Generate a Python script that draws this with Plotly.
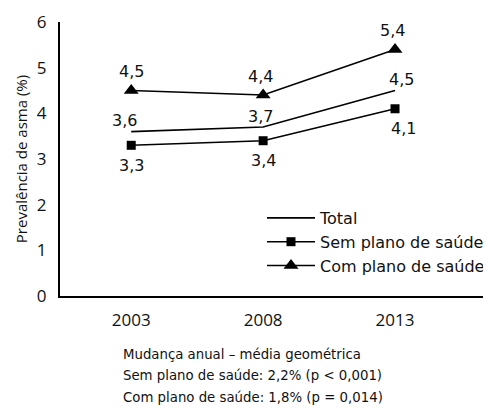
import plotly.graph_objects as go

years = [2003, 2008, 2013]
total = [3.6, 3.7, 4.5]
sem_plano = [3.3, 3.4, 4.1]
com_plano = [4.5, 4.4, 5.4]
y_ticks = [0, 1, 2, 3, 4, 5, 6]
note_lines = [
    "Mudança anual – média geométrica",
    "Sem plano de saúde: 2,2% (p < 0,001)",
    "Com plano de saúde: 1,8% (p = 0,014)",
]

def fmt(v):
    return f"{v:.1f}".replace(".", ",")

# page body has an 8px default margin: layout coords = screen coords - 8
OFF = 8
PLOT_L, PLOT_R, PLOT_T, PLOT_B = 60 - OFF, 490 - OFF, 22 - OFF, 296 - OFF
W, H = 483, 406
PW, PH = PLOT_R - PLOT_L, PLOT_B - PLOT_T

label_font = dict(family="DejaVu Sans", size=16, color="#111")
line = dict(color="black", width=1.6)

fig = go.Figure()
fig.add_trace(go.Scatter(
    x=years, y=total, name="Total", mode="lines", line=line))
fig.add_trace(go.Scatter(
    x=years, y=sem_plano, name="Sem plano de saúde", mode="lines+markers",
    line=line, marker=dict(symbol="square", size=9, color="black")))
fig.add_trace(go.Scatter(
    x=years, y=com_plano, name="Com plano de saúde", mode="lines+markers",
    line=line, marker=dict(symbol="triangle-up", size=13, color="black")))

annotations = []
# value labels, placed at the data points with pixel offsets
label_specs = [
    (total, 11, [-7, -3, 6]),
    (sem_plano, -20, [0, 0, 8]),
    (com_plano, 19, [0, -3, -3]),
]
for vals, ys, xs in label_specs:
    for x, v, dx in zip(years, vals, xs):
        annotations.append(dict(
            x=x, y=v, xref="x", yref="y", text=fmt(v), showarrow=False,
            xanchor="center", yanchor="middle", xshift=dx, yshift=ys,
            font=label_font))

for i, t in enumerate(note_lines):
    annotations.append(dict(
        xref="paper", yref="paper", x=(121 - 60) / PW, y=(296 - 354 - 21.5 * i) / PH,
        xanchor="left", yanchor="middle", align="left", showarrow=False,
        text=t, font=dict(family="DejaVu Sans", size=13.3, color="#111")))

fig.update_layout(
    width=W, height=H,
    margin=dict(l=PLOT_L, r=W - PLOT_R, t=PLOT_T, b=H - PLOT_B),
    paper_bgcolor="white", plot_bgcolor="white",
    showlegend=True,
    legend=dict(x=(262 - 60) / PW, y=(296 - 201) / PH, xanchor="left", yanchor="top",
                font=dict(family="DejaVu Sans", size=16, color="#111"),
                tracegroupgap=0, itemwidth=48, bgcolor="rgba(0,0,0,0)"),
    xaxis=dict(range=[2000.3, 2016.6], tickvals=years,
               ticktext=[str(y) for y in years], automargin=False,
               showline=True, linecolor="black", linewidth=2,
               showgrid=False, zeroline=False, ticks="",
               ticklabelstandoff=8,
               tickfont=dict(family="Open Sans", size=17, color="#111")),
    yaxis=dict(range=[0, 6], tickvals=y_ticks, automargin=False,
               showline=True, linecolor="black", linewidth=2,
               showgrid=False, zeroline=False, ticks="",
               ticklabelstandoff=8,
               tickfont=dict(family="Open Sans", size=17, color="#111"),
               title=dict(text="Prevalência de asma (%)", standoff=6,
                          font=dict(family="Open Sans", size=15, color="#111"))),
    annotations=annotations,
)

fig.write_html("out.html")
